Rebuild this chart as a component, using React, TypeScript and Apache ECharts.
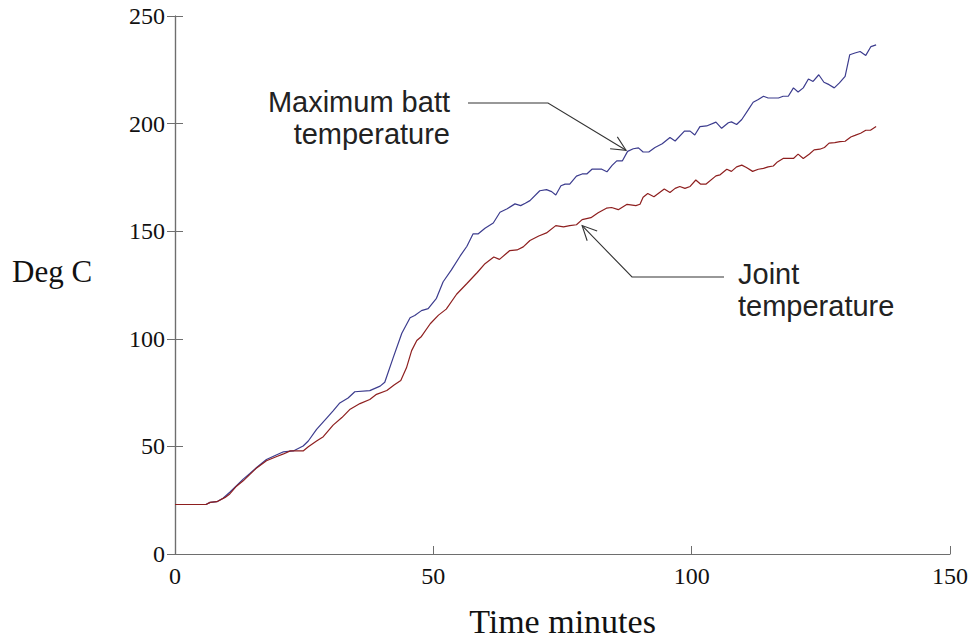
import React, { useEffect, useRef } from "react";
import * as echarts from "echarts";

// Maximum battery temperature (blue)
const battTime = [0, 6, 6.8, 8.1, 9.3, 10.6, 11.9, 13.2, 14.5, 15.8, 17.7, 19.7, 21, 22.9, 24.8, 25.8, 27.4, 29.4, 30.6, 31.9, 33.5, 34.8, 37.7, 39.7, 40.6, 42.2, 43.9, 45.5, 46.4, 47.7, 49, 50.6, 51.9, 53.5, 55.2, 56.5, 57.7, 58.7, 60, 61.6, 62.9, 64.3, 65.8, 66.9, 67.8, 68.7, 70.6, 71.9, 72.9, 73.7, 74.7, 75.5, 76.4, 77.7, 78.8, 79.7, 80.7, 82.6, 83.6, 84.6, 85.5, 86.6, 87.6, 88.7, 89.7, 90.6, 91.7, 92.9, 94.3, 95.8, 96.8, 98.6, 99.7, 100.6, 101.6, 102.9, 104.7, 105.8, 107.1, 107.7, 108.7, 109.7, 111, 111.9, 112.9, 113.9, 114.8, 116.8, 117.7, 118.7, 119.7, 120.6, 121.6, 122.6, 123.5, 124.6, 125.6, 126.6, 127.6, 128.6, 129.7, 130.6, 131.6, 132.6, 133.7, 134.7, 135.7];
const battTemp = [23, 23, 24, 24.3, 25.9, 28.7, 31.7, 34.8, 37.4, 40.2, 43.9, 46.1, 47.5, 47.9, 50.2, 52.5, 57.9, 63.3, 66.5, 70.2, 72.5, 75.4, 75.9, 78, 79.8, 91, 102.6, 109.8, 110.8, 113.1, 114, 118.8, 126.5, 132, 138.5, 143, 148.8, 148.8, 151.4, 153.8, 158.8, 160.4, 162.7, 161.9, 163, 164.2, 168.8, 169.3, 168.4, 166.8, 171.1, 171.9, 171.9, 175.6, 176.6, 176.6, 178.8, 178.8, 177.6, 180.6, 182.7, 182.7, 187.1, 188.3, 188.7, 186.8, 186.8, 188.9, 190.6, 193.5, 191.9, 196.5, 196.5, 194.7, 198.6, 198.9, 200.7, 197.8, 200.4, 200.8, 199.6, 201.9, 206.6, 209.9, 211.2, 212.7, 211.9, 211.9, 212.7, 212.7, 216.6, 214.7, 216.6, 220.7, 219.6, 222.7, 219.2, 218.1, 216.6, 218.9, 221.9, 232, 232.8, 233.5, 231.7, 235.8, 236.6];

// Joint temperature (red)
const jointTime = [0, 6, 6.8, 8.1, 9.7, 10.6, 11.9, 13.2, 14.5, 15.8, 17.7, 19.7, 21, 22.3, 24.8, 25.8, 27.4, 28.7, 30.6, 32.3, 33.9, 35.8, 37.7, 39, 41, 42.4, 43.7, 44.8, 45.8, 46.8, 47.7, 49.4, 51, 52.5, 54.5, 56.5, 58.5, 60, 61.7, 62.8, 64.8, 66.2, 67.4, 68.7, 70.4, 71.9, 73.7, 75.2, 76.4, 77.7, 78.8, 80.5, 81.9, 83.5, 84.5, 85.8, 87.5, 89.2, 90, 90.6, 91.5, 92.7, 94.7, 95.8, 96.8, 97.7, 98.7, 99.7, 100.8, 101.7, 102.8, 104.7, 105.5, 106.8, 107.7, 108.7, 109.7, 110.6, 111.8, 112.9, 113.9, 114.8, 115.8, 116.6, 117.7, 119.7, 120.6, 121.6, 122.8, 123.7, 124.8, 125.7, 126.6, 127.7, 128.7, 129.7, 130.8, 131.6, 132.7, 133.7, 134.6, 135.7];
const jointTemp = [23, 23, 24, 24.3, 26.3, 27.9, 31.5, 34, 37, 40, 43.3, 45.3, 46.5, 47.9, 47.9, 49.8, 52.5, 54.5, 59.9, 63.4, 67.3, 69.9, 71.8, 74.2, 76, 78.5, 80.6, 86.5, 94.5, 99.2, 101.1, 107, 111, 113.8, 120.7, 125.7, 130.8, 134.9, 138, 136.9, 141, 141.3, 142.7, 145.7, 147.8, 149.2, 152.6, 152, 152.6, 153, 155.4, 156.3, 158.6, 160.7, 161, 160, 162.5, 161.9, 162.5, 165.8, 167.5, 166, 169.6, 168, 169.9, 170.8, 169.9, 170.8, 173.8, 171.9, 171.9, 175.7, 176.2, 178.8, 177.8, 179.9, 180.7, 179.6, 177.8, 178.8, 179.2, 179.9, 180.3, 182.2, 183.8, 183.8, 185.8, 183.8, 185.9, 187.8, 188.1, 188.9, 190.9, 191.2, 191.6, 191.8, 193.8, 194.5, 195.5, 196.9, 196.9, 198.6];

const xTicks = [0, 50, 100, 150];
const yTicks = [0, 50, 100, 150, 200, 250];

const battLabel = ["Maximum batt", "temperature"];
const jointLabel = ["Joint", "temperature"];
// annotation anchor points (data coords on curves)
const battAnchor = [87.3, 187.6];
const jointAnchor = [78.8, 152.6];

function arrowArms(tip: number[], from: number[], len: number, ang: number) {
  const a = Math.atan2(from[1] - tip[1], from[0] - tip[0]);
  return [a - ang, a + ang].map((t) => [tip[0] + len * Math.cos(t), tip[1] + len * Math.sin(t)]);
}

export default function App() {
  const ref = useRef<HTMLDivElement>(null);
  useEffect(() => {
    if (!ref.current) return;
    document.body.style.margin = "0";
    const chart = echarts.init(ref.current, undefined, { renderer: "svg" });
    const serif = "'Liberation Serif', 'Times New Roman', serif";
    const sans = "'Liberation Sans', Arial, sans-serif";
    const axisColor = "#6e6e6e";
    const yBase = {
      type: "value" as const,
      min: yTicks[0],
      max: yTicks[yTicks.length - 1],
      interval: 50,
      position: "left" as const,
      splitLine: { show: false },
      axisLine: { show: true, lineStyle: { color: axisColor, width: 1.2 } },
    };
    chart.setOption({
      animation: false,
      backgroundColor: "#ffffff",
      grid: { left: 175, right: 22, top: 16, bottom: 86, containLabel: false },
      xAxis: {
        type: "value",
        min: xTicks[0],
        max: xTicks[xTicks.length - 1],
        interval: 50,
        splitLine: { show: false },
        axisLine: { lineStyle: { color: axisColor, width: 1.2 } },
        axisTick: { inside: true, length: 8, lineStyle: { color: axisColor } },
        axisLabel: { color: "#111", fontFamily: serif, fontSize: 24, margin: 10 },
        name: "Time minutes",
        nameLocation: "middle",
        nameGap: 50,
        nameTextStyle: { color: "#111", fontFamily: serif, fontSize: 34 },
      },
      yAxis: [
        {
          ...yBase,
          axisTick: { inside: false, length: 8, lineStyle: { color: axisColor } },
          axisLabel: { color: "#111", fontFamily: serif, fontSize: 24, margin: 10 },
        },
        {
          ...yBase,
          axisTick: { inside: true, length: 8, lineStyle: { color: axisColor } },
          axisLabel: { show: false },
        },
      ],
      series: [
        {
          name: "Maximum batt temperature",
          type: "line",
          showSymbol: false,
          data: battTime.map((t, i) => [t, battTemp[i]]),
          lineStyle: { color: "#3c3c8e", width: 1.2 },
          itemStyle: { color: "#3c3c8e" },
        },
        {
          name: "Joint temperature",
          type: "line",
          showSymbol: false,
          data: jointTime.map((t, i) => [t, jointTemp[i]]),
          lineStyle: { color: "#8e1f1f", width: 1.2 },
          itemStyle: { color: "#8e1f1f" },
        },
      ],
    });

    const bt = chart.convertToPixel({ gridIndex: 0 }, battAnchor) as number[];
    const jt = chart.convertToPixel({ gridIndex: 0 }, jointAnchor) as number[];
    const bElbow = [548, 103];
    const bEnd = [468, 103];
    const jElbow = [632, 277];
    const jEnd = [724, 277];
    const bArms = arrowArms(bt, bElbow, 16, 0.45);
    const jArms = arrowArms(jt, jElbow, 16, 0.45);
    const lineStyle = { stroke: "#333", lineWidth: 1.1, fill: null };
    chart.setOption({
      graphic: [
        { type: "polyline", shape: { points: [bEnd, bElbow, bt] }, style: lineStyle, silent: true },
        { type: "polyline", shape: { points: [bArms[0], bt, bArms[1]] }, style: lineStyle, silent: true },
        { type: "polyline", shape: { points: [jEnd, jElbow, jt] }, style: lineStyle, silent: true },
        { type: "polyline", shape: { points: [jArms[0], jt, jArms[1]] }, style: lineStyle, silent: true },
        {
          type: "text",
          x: 450,
          y: 86,
          style: { text: battLabel.join("\n"), align: "right", verticalAlign: "top", font: `29px ${sans}`, fill: "#222", lineHeight: 32 },
        },
        {
          type: "text",
          x: 738,
          y: 258,
          style: { text: jointLabel.join("\n"), align: "left", verticalAlign: "top", font: `29px ${sans}`, fill: "#222", lineHeight: 32 },
        },
        {
          type: "text",
          x: 12,
          y: 271,
          style: { text: "Deg C", align: "left", verticalAlign: "middle", font: `31px ${serif}`, fill: "#111" },
        },
      ],
    });
    return () => chart.dispose();
  }, []);
  return <div ref={ref} style={{ width: 972, height: 643 }} />;
}
